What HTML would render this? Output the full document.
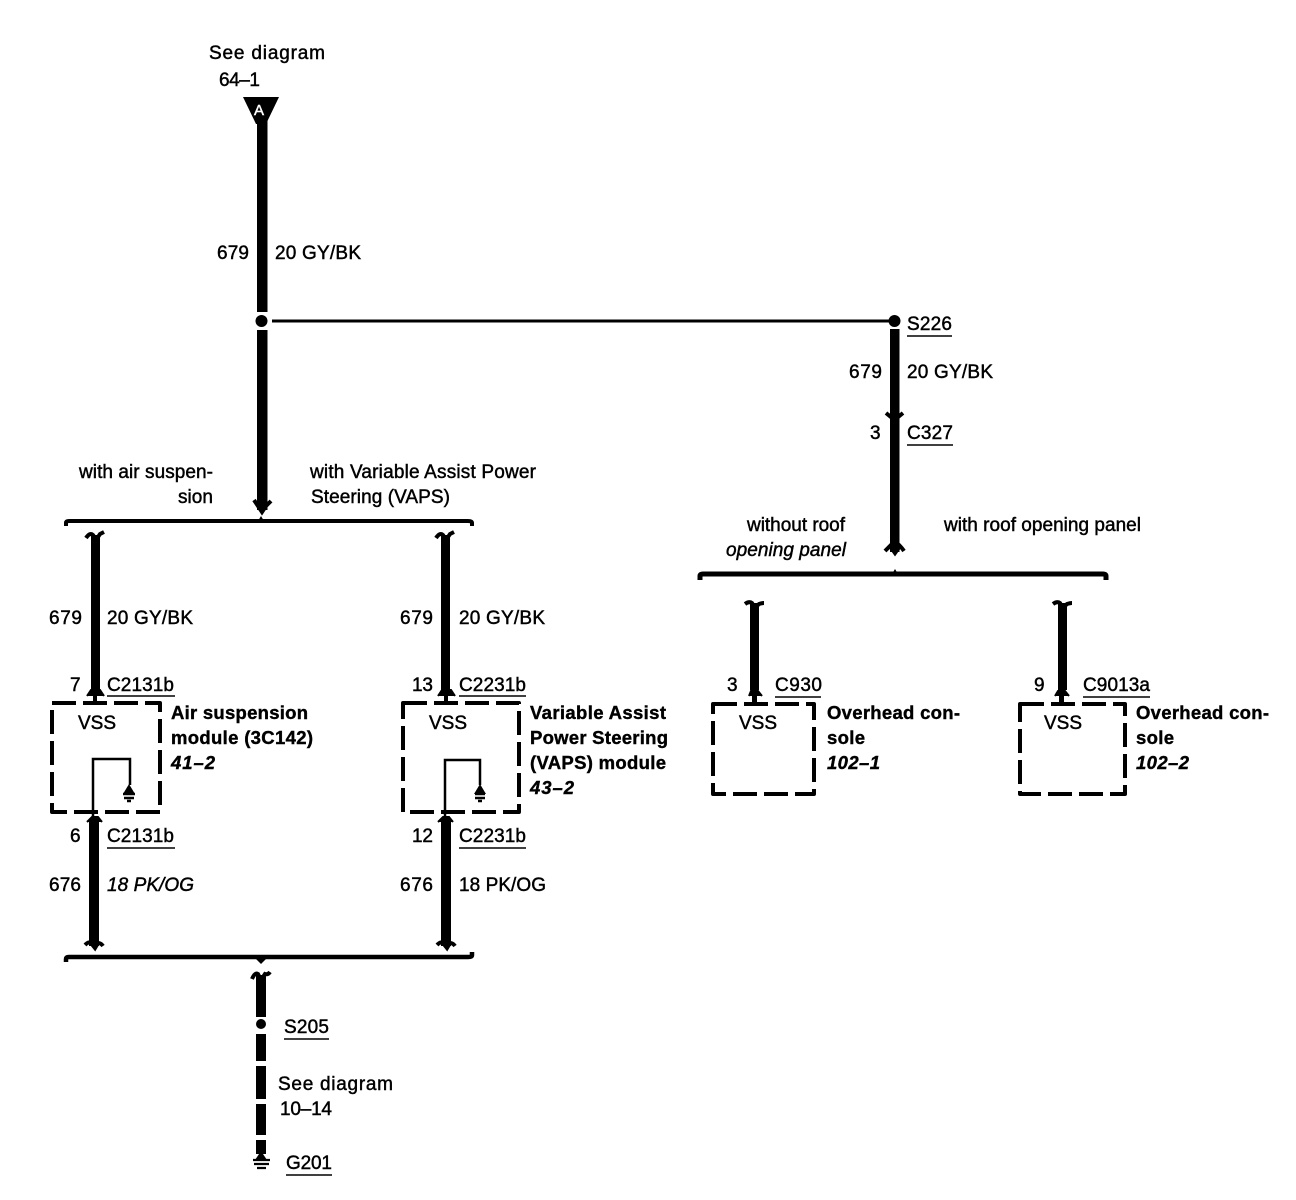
<!DOCTYPE html>
<html><head><meta charset="utf-8"><style>
html,body{margin:0;padding:0;background:#fff}
svg{display:block}
text{font-family:"Liberation Sans",sans-serif;font-size:19px;fill:#000;stroke:#000;stroke-width:.45px}
.b{font-weight:bold;font-size:18.5px;stroke-width:.4px}
.i{font-style:italic}
.w{stroke:#000;fill:none}
.d{stroke:#000;fill:none;stroke-width:4;stroke-dasharray:24 7;stroke-linejoin:round}
.u{stroke:#000;stroke-width:1.6}
</style></head><body>
<svg width="1296" height="1200" viewBox="0 0 1296 1200" xmlns="http://www.w3.org/2000/svg">
<rect width="1296" height="1200" fill="#fff"/>

<!-- Top -->
<text x="209" y="59" textLength="116">See diagram</text>
<text x="219" y="86" textLength="41">64–1</text>
<path d="M243 97H279L266 124H256Z" fill="#000"/>
<text x="254" y="115" style="fill:#fff;stroke:#fff;font-size:15px" textLength="14">A</text>
<rect x="257" y="120" width="10.500" height="192" fill="#000"/>
<rect x="257" y="330" width="10.500" height="180" fill="#000"/>
<circle cx="261.500" cy="321" r="6" fill="#000"/>
<path d="M272 321H890" class="w" stroke-width="3"/>
<text x="217" y="259" textLength="32">679</text>
<text x="275" y="259" textLength="86">20 GY/BK</text>

<!-- Right trunk -->
<circle cx="894.500" cy="321" r="6" fill="#000"/>
<rect x="890" y="329" width="9.500" height="223" fill="#000"/>
<path d="M886 413L894.500 420L903 413" class="w" stroke-width="4"/>
<path d="M885 551Q888 548 890 546L895 553L900 546Q902 548 904 551" class="w" stroke-width="4"/>
<text x="907" y="330" textLength="45">S226</text><path d="M907 336H952" class="u"/>
<text x="849" y="378" textLength="33">679</text>
<text x="907" y="378" textLength="86">20 GY/BK</text>
<text x="870" y="439" textLength="12">3</text>
<text x="907" y="439" textLength="46">C327</text><path d="M907 445H953" class="u"/>
<text x="747" y="531" textLength="98">without roof</text>
<text x="726" y="556" class="i" textLength="120">opening panel</text>
<text x="944" y="531" textLength="197">with roof opening panel</text>

<!-- Right bracket -->
<path d="M700 580V576Q700 574 703 574H1103Q1106 574 1106 576V580" class="w" stroke-width="5"/>
<path d="M892 574L895 569L898 574Z" fill="#000"/>

<!-- Left bracket top -->
<text x="79" y="478" textLength="134">with air suspen-</text>
<text x="178" y="503" textLength="35">sion</text>
<text x="310" y="478" textLength="226">with Variable Assist Power</text>
<text x="311" y="503" textLength="139">Steering (VAPS)</text>
<path d="M254 500Q256 503 258 506L262 512L266 506Q269 503 271 501" class="w" stroke-width="4"/>
<path d="M66 526V523Q66 521 69 521H468Q472 521 472 523V526" class="w" stroke-width="4"/>
<path d="M258 521L261 516L264 521Z" fill="#000"/>

<!-- Left drop 1 -->
<rect x="91" y="535" width="9" height="155" fill="#000"/>
<path d="M86 538Q90 532 93 535L96 540L100 534Q102 533 104 532" class="w" stroke-width="4"/>
<path d="M87 696L91 690H100L104 696" fill="#000" stroke="#000" stroke-width="2"/>
<rect x="93" y="695" width="4" height="10" fill="#000"/>
<text x="49" y="624" textLength="33">679</text>
<text x="107" y="624" textLength="86">20 GY/BK</text>
<text x="70" y="691" textLength="11">7</text>
<text x="107" y="691" textLength="67">C2131b</text><path d="M107 696H175" class="u"/>
<path d="M52 703H160V812H52Z" class="d"/>
<text x="78" y="729" textLength="38">VSS</text>
<text x="171" y="719" class="b" textLength="137">Air suspension</text>
<text x="171" y="744" class="b" textLength="142">module (3C142)</text>
<text x="171" y="769" class="b i" textLength="44">41–2</text>
<path d="M93 830V759H130V785" class="w" stroke-width="2.500"/>
<path d="M129 784L123 794H135Z" fill="#000"/>
<path d="M123 794H135M124 798H134M127 801H131" class="w" stroke-width="2.500"/>

<path d="M87 822L92 817H98L102 822" fill="#000" stroke="#000" stroke-width="2"/>
<rect x="89" y="820" width="10" height="126" fill="#000"/>
<path d="M85 945Q89 941 91 943L95 948L98 943Q101 943 103 946" class="w" stroke-width="4"/>
<text x="70" y="842" textLength="11">6</text>
<text x="107" y="842" textLength="67">C2131b</text><path d="M107 848H175" class="u"/>
<text x="49" y="891" textLength="32">676</text>
<text x="107" y="891" class="i" textLength="87">18 PK/OG</text>

<!-- Left drop 2 -->
<rect x="441" y="535" width="9" height="155" fill="#000"/>
<path d="M436 538Q440 532 443 535L446 540L450 534Q452 533 454 532" class="w" stroke-width="4"/>
<path d="M438 696L442 690H451L455 696" fill="#000" stroke="#000" stroke-width="2"/>
<rect x="444" y="695" width="4" height="10" fill="#000"/>
<text x="400" y="624" textLength="33">679</text>
<text x="459" y="624" textLength="86">20 GY/BK</text>
<text x="412" y="691" textLength="21">13</text>
<text x="459" y="691" textLength="67">C2231b</text><path d="M459 696H526" class="u"/>
<path d="M403 703H519V812H403Z" class="d"/>
<text x="429" y="729" textLength="38">VSS</text>
<text x="530" y="719" class="b" textLength="136">Variable Assist</text>
<text x="530" y="744" class="b" textLength="138">Power Steering</text>
<text x="530" y="769" class="b" textLength="136">(VAPS) module</text>
<text x="530" y="794" class="b i" textLength="44">43–2</text>
<path d="M445 830V760H480V785" class="w" stroke-width="2.500"/>
<path d="M480 784L474 794H486Z" fill="#000"/>
<path d="M475 794H485M475 798H485M478 801H482" class="w" stroke-width="2.500"/>

<path d="M438 822L443 817H449L453 822" fill="#000" stroke="#000" stroke-width="2"/>
<rect x="441" y="820" width="10" height="126" fill="#000"/>
<path d="M437 945Q441 941 443 943L447 948L450 943Q453 943 455 946" class="w" stroke-width="4"/>
<text x="412" y="842" textLength="21">12</text>
<text x="459" y="842" textLength="67">C2231b</text><path d="M459 848H526" class="u"/>
<text x="400" y="891" textLength="33">676</text>
<text x="459" y="891" textLength="87">18 PK/OG</text>

<!-- Bottom bracket -->
<path d="M66 962V959Q66 957 69 957H468Q472 957 472 955V952" class="w" stroke-width="4.500"/>
<path d="M256 959H266L261 964Z" fill="#000"/>

<!-- Bottom trunk -->
<path d="M252 979Q255 972 258 974L261 980L265 974Q268 975 270 972" class="w" stroke-width="4"/>
<rect x="256" y="975" width="10" height="42" fill="#000"/>
<circle cx="261" cy="1024" r="5" fill="#000"/>
<rect x="256" y="1034" width="10" height="27" fill="#000"/>
<rect x="256" y="1066" width="10" height="33" fill="#000"/>
<rect x="256" y="1104" width="10" height="31" fill="#000"/>
<rect x="256" y="1140" width="10" height="14" fill="#000"/>
<path d="M261 1151L255 1160H267Z" fill="#000"/>
<path d="M253 1160H270M254 1164H269M257 1168H266" class="w" stroke-width="2.200"/>
<text x="284" y="1033" textLength="45">S205</text><path d="M284 1039H329" class="u"/>
<text x="278" y="1090" textLength="115">See diagram</text>
<text x="280" y="1115" textLength="52">10–14</text>
<text x="286" y="1169" textLength="46">G201</text><path d="M286 1175H332" class="u"/>

<!-- Right drop 1 -->
<rect x="750" y="603" width="9" height="87" fill="#000"/>
<path d="M745 604Q749 601 752 603L755 608L759 604Q762 603 764 603" class="w" stroke-width="4"/>
<path d="M749 696L751 691H758L762 696" fill="#000" stroke="#000" stroke-width="2"/>
<rect x="752" y="695" width="5" height="8" fill="#000"/>
<text x="727" y="691" textLength="11">3</text>
<text x="775" y="691" textLength="47">C930</text><path d="M775 697H821" class="u"/>
<path d="M713 704H814V794H713Z" class="d"/>
<text x="739" y="729" textLength="38">VSS</text>
<text x="827" y="719" class="b" textLength="133">Overhead con-</text>
<text x="827" y="744" class="b" textLength="38">sole</text>
<text x="827" y="769" class="b i" textLength="53">102–1</text>

<!-- Right drop 2 -->
<rect x="1058" y="603" width="9" height="87" fill="#000"/>
<path d="M1053 604Q1057 601 1060 603L1063 608L1067 604Q1070 603 1072 603" class="w" stroke-width="4"/>
<path d="M1055 696L1058 691H1065L1069 696" fill="#000" stroke="#000" stroke-width="2"/>
<rect x="1059" y="695" width="5" height="8" fill="#000"/>
<text x="1034" y="691" textLength="11">9</text>
<text x="1083" y="691" textLength="67">C9013a</text><path d="M1083 697H1150" class="u"/>
<path d="M1020 704H1125V794H1020Z" class="d"/>
<text x="1044" y="729" textLength="38">VSS</text>
<text x="1136" y="719" class="b" textLength="133">Overhead con-</text>
<text x="1136" y="744" class="b" textLength="38">sole</text>
<text x="1136" y="769" class="b i" textLength="53">102–2</text>
</svg>
</body></html>
